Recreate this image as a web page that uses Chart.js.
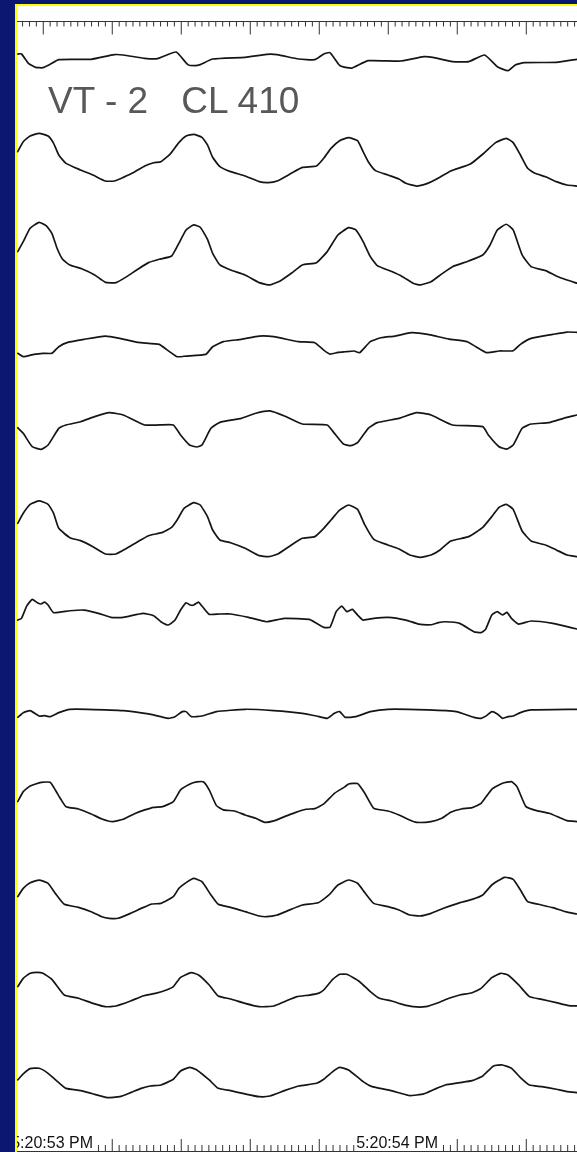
<!DOCTYPE html>
<html>
<head>
<meta charset="utf-8">
<script src="https://cdn.jsdelivr.net/npm/chart.js@4.4.1/dist/chart.umd.min.js"></script>
<style>
  html, body { margin: 0; padding: 0; }
  body { width: 577px; height: 1152px; background: #0b1872; position: relative; overflow: hidden; }
  #panel { position: absolute; left: 16px; top: 6px; width: 561px; height: 1146px; background: #ffffff; }
  #edgeL { position: absolute; left: 15px; top: 4px; width: 2px; height: 1148px; background: #ffff00; z-index: 3; }
  #edgeT { position: absolute; left: 15px; top: 4px; width: 562px; height: 2px; background: #ffff00; z-index: 3; }
  #chartBox { position: absolute; left: 16px; top: 6px; width: 561px; height: 1146px; z-index: 1; }
  #title { position: absolute; left: 48px; top: 81.7px; font: 37px/37px "Liberation Sans", Arial, sans-serif;
           color: #585858; white-space: pre; z-index: 2; }
</style>
</head>
<body>
<div id="panel"></div>
<div id="chartBox"><canvas id="ecg" width="561" height="1146"></canvas></div>
<div id="title">VT - 2 <span style="margin-left:23px">CL 410</span></div>
<div id="edgeL"></div>
<div id="edgeT"></div>
<script>
// Sweep timing (ms from the left edge of the strip)
const spanMs = 1626;
const firstMajorTickMs = 79;
const majorStepMs = 200;
const minorStepMs = 20;
const timeLabels = ['5:20:53 PM', '5:20:54 PM'];
const timeLabelMs = [-14, 986];

// Twelve recorded channels: [time ms, amplitude mV]
const ch1 = [[5,0.43],[16,0.43],[36,-0.57],[57,-1.0],[78,-1.04],[99,-0.68],[124,-0.18],[218,-0.14],[285,0.36],[311,0.32],[373,-0.04],[410,-0.07],[464,0.64],[498,-0.71],[519,-0.82],[534,-0.71],[570,-0.11],[664,0.07],[726,0.39],[757,0.36],[819,-0.11],[866,-0.18],[892,0.43],[910,0.57],[938,-0.79],[959,-1.04],[975,-1.07],[1021,-0.29],[1115,-0.32],[1182,0.14],[1208,0.07],[1265,-0.39],[1312,-0.39],[1358,0.32],[1395,-0.93],[1426,-1.36],[1447,-0.75],[1473,-0.5],[1566,-0.46],[1626,-0.14]];
const ch2 = [[5,0.89],[21,1.96],[41,2.57],[67,2.86],[93,2.57],[109,1.79],[124,0.54],[145,-0.36],[187,-1.07],[223,-1.61],[259,-2.25],[285,-2.25],[311,-1.86],[342,-1.32],[373,-0.64],[399,-0.29],[420,-0.18],[446,0.61],[472,1.86],[493,2.57],[515,2.75],[539,2.43],[555,1.61],[570,0.29],[591,-0.71],[622,-1.25],[664,-1.71],[705,-2.32],[731,-2.43],[757,-2.25],[798,-1.43],[830,-0.79],[871,-0.64],[892,0.18],[913,1.25],[938,2.07],[964,2.39],[990,2.07],[1006,0.89],[1021,-0.18],[1042,-1.14],[1078,-1.61],[1110,-2.04],[1130,-2.5],[1161,-2.79],[1193,-2.5],[1218,-2.07],[1260,-1.18],[1317,-0.43],[1358,0.79],[1390,1.86],[1421,2.32],[1441,1.86],[1462,0.54],[1483,-0.89],[1504,-1.43],[1535,-1.79],[1566,-2.32],[1597,-2.68],[1626,-2.79]];
const ch3 = [[5,0.18],[21,1.25],[41,2.68],[67,3.32],[88,2.93],[104,2.14],[119,0.54],[135,-0.64],[156,-1.25],[192,-1.68],[228,-2.32],[259,-3.11],[290,-3.14],[321,-2.5],[353,-1.71],[384,-1.0],[415,-0.64],[451,-0.29],[472,1.07],[493,2.5],[515,3.04],[534,2.79],[555,1.5],[570,0.0],[591,-1.25],[622,-1.79],[664,-2.32],[705,-3.14],[736,-3.39],[767,-2.93],[798,-2.14],[830,-1.25],[871,-1.0],[902,0.18],[933,1.96],[964,2.75],[985,2.5],[1006,1.25],[1027,-0.36],[1047,-1.32],[1089,-1.96],[1120,-2.5],[1151,-3.21],[1172,-3.39],[1203,-3.04],[1234,-2.21],[1265,-1.43],[1312,-0.82],[1353,-0.18],[1374,0.89],[1395,2.5],[1421,3.11],[1441,2.5],[1467,-0.18],[1493,-1.43],[1535,-1.86],[1566,-2.43],[1597,-2.86],[1626,-3.21]];
const ch4 = [[5,-0.71],[21,-1.07],[52,-0.82],[78,-0.71],[104,-0.71],[124,0.0],[150,0.46],[197,0.79],[259,1.14],[301,0.89],[353,0.46],[415,0.25],[436,-0.29],[467,-1.07],[493,-1.0],[550,-0.82],[570,0.0],[601,0.54],[653,0.79],[705,1.14],[747,1.07],[819,0.54],[866,0.43],[892,-0.36],[910,-0.79],[933,-0.61],[954,-0.54],[980,-0.46],[996,-0.64],[1027,0.54],[1058,0.96],[1099,1.14],[1146,1.5],[1193,1.32],[1255,0.82],[1307,0.54],[1333,0.0],[1364,-0.64],[1400,-0.46],[1441,-0.43],[1462,0.25],[1493,0.89],[1556,1.32],[1597,1.57],[1626,1.54]];
const ch5 = [[5,0.25],[21,-0.36],[47,-1.79],[73,-2.07],[93,-1.61],[124,0.18],[145,0.54],[187,0.89],[228,1.43],[270,1.86],[311,1.61],[373,0.54],[415,0.54],[456,0.54],[477,-0.54],[503,-1.61],[524,-1.82],[539,-1.61],[565,0.18],[591,0.82],[653,1.25],[695,1.79],[736,2.04],[778,1.5],[830,0.64],[902,0.54],[923,-0.36],[949,-1.5],[970,-1.68],[990,-1.36],[1021,0.18],[1047,0.79],[1110,1.25],[1161,1.86],[1203,1.61],[1265,0.54],[1353,0.36],[1369,-0.54],[1400,-1.79],[1423,-2.04],[1441,-1.61],[1467,0.18],[1493,0.64],[1545,0.79],[1587,1.25],[1626,1.61]];
const ch6 = [[5,0.71],[21,1.79],[41,2.75],[67,3.11],[93,2.75],[109,1.79],[124,0.18],[156,-0.82],[187,-1.14],[223,-1.79],[259,-2.57],[290,-2.57],[321,-1.96],[353,-1.25],[384,-0.61],[425,-0.25],[451,0.29],[467,1.07],[487,2.32],[515,2.93],[534,2.68],[555,1.43],[570,0.0],[591,-1.07],[622,-1.36],[664,-1.96],[705,-2.75],[731,-2.86],[757,-2.61],[798,-1.61],[830,-0.89],[866,-0.71],[892,0.18],[913,1.07],[938,2.14],[964,2.68],[990,2.21],[1011,0.54],[1037,-1.0],[1078,-1.61],[1110,-2.04],[1141,-2.68],[1172,-2.93],[1203,-2.68],[1229,-2.14],[1260,-1.18],[1312,-0.71],[1353,0.29],[1379,1.43],[1400,2.43],[1421,2.75],[1441,2.21],[1467,-0.11],[1493,-1.18],[1535,-1.61],[1566,-2.14],[1597,-2.68],[1626,-2.86]];
const ch7 = [[5,-0.36],[16,-0.18],[31,1.14],[47,1.86],[62,1.5],[73,1.36],[83,1.57],[93,1.25],[109,0.43],[156,0.64],[197,0.71],[239,0.36],[275,-0.07],[311,-0.07],[368,0.36],[399,0.11],[420,-0.54],[441,-0.89],[461,-0.36],[477,0.71],[493,1.5],[505,1.25],[515,1.25],[529,1.57],[539,1.14],[560,0.25],[591,0.29],[622,0.29],[674,-0.07],[726,-0.54],[778,-0.18],[850,-0.29],[871,-0.71],[892,-1.14],[910,-1.14],[928,0.54],[944,1.14],[959,0.54],[975,0.79],[990,0.18],[1006,-0.36],[1037,-0.18],[1078,-0.07],[1130,-0.36],[1167,-0.79],[1203,-0.86],[1224,-0.64],[1244,-0.54],[1286,-0.71],[1327,-1.61],[1348,-1.71],[1361,-1.36],[1379,0.18],[1395,0.54],[1410,0.18],[1423,0.46],[1436,-0.18],[1457,-0.79],[1493,-0.46],[1556,-0.71],[1597,-1.07],[1626,-1.32]];
const ch8 = [[5,-0.43],[21,0.07],[41,0.29],[67,-0.29],[83,-0.25],[99,-0.36],[124,0.07],[156,0.43],[207,0.43],[311,0.29],[384,-0.07],[441,-0.54],[461,-0.36],[482,0.18],[493,0.18],[508,-0.36],[539,-0.29],[581,0.18],[664,0.43],[747,0.29],[830,0.0],[871,-0.29],[902,-0.54],[923,0.0],[938,0.18],[954,-0.43],[985,-0.36],[1027,0.18],[1078,0.43],[1193,0.36],[1276,0.18],[1327,-0.43],[1348,-0.54],[1364,-0.25],[1379,0.18],[1395,-0.07],[1410,-0.54],[1426,-0.36],[1441,-0.29],[1462,0.07],[1493,0.36],[1626,0.43]];
const ch9 = [[5,0.18],[21,1.25],[41,1.86],[73,2.25],[99,2.25],[114,1.43],[130,0.43],[145,-0.36],[181,-0.61],[218,-1.14],[249,-1.68],[280,-1.96],[311,-1.71],[342,-1.14],[373,-0.71],[399,-0.43],[425,-0.36],[456,0.18],[477,1.43],[503,2.04],[524,2.29],[544,2.29],[560,1.43],[581,-0.25],[601,-0.71],[633,-0.82],[664,-1.25],[695,-1.61],[721,-2.04],[747,-1.89],[778,-1.43],[809,-1.0],[840,-0.64],[866,-0.57],[892,-0.07],[923,1.07],[954,1.79],[964,2.07],[990,2.11],[1011,1.07],[1037,-0.54],[1078,-0.82],[1110,-1.25],[1141,-1.79],[1161,-2.04],[1203,-1.96],[1234,-1.61],[1260,-0.96],[1291,-0.61],[1322,-0.46],[1348,0.0],[1379,1.5],[1410,2.14],[1436,2.32],[1452,1.79],[1478,-0.36],[1509,-0.79],[1545,-1.07],[1576,-1.54],[1597,-1.86],[1626,-1.96]];
const ch10 = [[5,0.36],[21,1.25],[41,1.86],[67,2.14],[93,1.79],[114,0.71],[140,-0.46],[181,-0.79],[218,-1.25],[249,-1.79],[270,-1.96],[296,-1.96],[332,-1.43],[368,-0.82],[394,-0.43],[420,-0.36],[456,0.36],[472,1.25],[493,1.86],[515,2.32],[539,1.96],[565,0.54],[586,-0.46],[622,-0.79],[664,-1.25],[705,-1.71],[726,-1.79],[757,-1.61],[788,-1.14],[830,-0.54],[876,-0.29],[907,0.54],[933,1.61],[964,2.14],[990,1.79],[1011,0.79],[1037,-0.36],[1078,-0.71],[1110,-1.07],[1141,-1.61],[1172,-1.71],[1203,-1.43],[1239,-0.89],[1281,-0.36],[1322,0.07],[1353,0.54],[1379,1.61],[1416,2.43],[1441,2.21],[1462,1.07],[1483,-0.18],[1514,-0.46],[1556,-0.82],[1592,-1.25],[1626,-1.5]];
const ch11 = [[5,0.36],[21,1.25],[41,1.79],[62,1.89],[78,1.79],[104,1.14],[140,-0.54],[181,-0.89],[223,-1.43],[259,-1.79],[290,-1.71],[332,-1.18],[368,-0.64],[404,-0.36],[436,0.0],[456,0.36],[477,1.36],[508,1.86],[529,1.61],[560,0.54],[586,-0.64],[622,-0.96],[664,-1.43],[705,-1.79],[747,-1.71],[778,-1.25],[814,-0.71],[850,-0.54],[876,-0.36],[892,0.0],[918,1.14],[938,1.68],[959,1.68],[996,0.89],[1027,-0.18],[1053,-0.89],[1089,-1.18],[1120,-1.54],[1151,-1.79],[1187,-1.79],[1224,-1.36],[1255,-0.89],[1286,-0.54],[1322,-0.29],[1348,0.18],[1379,1.32],[1405,1.79],[1426,1.61],[1457,0.54],[1488,-0.71],[1524,-1.0],[1566,-1.36],[1602,-1.68],[1626,-1.71]];
const ch12 = [[5,0.36],[21,1.0],[41,1.57],[67,1.61],[93,1.07],[124,0.07],[145,-0.54],[187,-0.79],[228,-1.18],[264,-1.54],[301,-1.43],[332,-1.0],[363,-0.54],[389,-0.29],[420,-0.18],[456,0.43],[477,1.32],[503,1.71],[524,1.43],[560,0.36],[586,-0.54],[622,-0.79],[664,-1.14],[705,-1.43],[736,-1.36],[778,-0.79],[819,-0.29],[871,0.0],[892,0.43],[918,1.25],[938,1.71],[964,1.43],[1006,0.18],[1032,-0.36],[1078,-0.71],[1115,-1.07],[1141,-1.32],[1182,-1.14],[1213,-0.64],[1244,-0.18],[1286,0.07],[1322,0.29],[1353,0.79],[1384,1.86],[1410,1.96],[1436,1.61],[1462,0.61],[1488,-0.18],[1524,-0.36],[1566,-0.64],[1597,-0.89],[1626,-1.0]];

const channels = [ch1, ch2, ch3, ch4, ch5, ch6, ch7, ch8, ch9, ch10, ch11, ch12];

// Layout: baseline of each row (px from top of the plotting area) and display gain
const rowBaselinePx = [52, 154, 247.3, 340.7, 424, 524, 610.7, 707.3, 797.3, 894, 984, 1077.3];
const plotHeightPx = 1146;
const gainPxPerMv = 28 / 3;

const scales = {
  x: { type: 'linear', min: 0, max: spanMs, display: false }
};
rowBaselinePx.forEach((c, i) => {
  scales['y' + i] = {
    type: 'linear',
    display: false,
    min: -(plotHeightPx - c) / gainPxPerMv,
    max: c / gainPxPerMv
  };
});

const datasets = channels.map((ch, i) => ({
  data: ch.map(([t, v]) => ({ x: t, y: v })),
  yAxisID: 'y' + i,
  borderColor: '#151515',
  borderWidth: 1.7,
  pointRadius: 0,
  tension: 0.15,
  borderJoinStyle: 'round',
  borderCapStyle: 'round',
  fill: false
}));

// Time rulers along the top and bottom edges, with the clock labels
const rulerPlugin = {
  id: 'timeRuler',
  afterDraw(chart) {
    const { ctx, chartArea: a } = chart;
    const x = chart.scales.x;
    ctx.save();
    ctx.strokeStyle = '#333333';
    ctx.lineWidth = 1;
    const topY = a.top + 15.5;
    const botY = a.bottom - 0.5;
    ctx.beginPath();
    ctx.moveTo(a.left, topY); ctx.lineTo(a.right, topY);
    ctx.moveTo(a.left, botY); ctx.lineTo(a.right, botY);
    const first = firstMajorTickMs - Math.floor(firstMajorTickMs / minorStepMs) * minorStepMs;
    for (let t = first; t <= spanMs; t += minorStepMs) {
      const px = x.getPixelForValue(t);
      const major = ((t - firstMajorTickMs) % majorStepMs + majorStepMs) % majorStepMs === 0;
      ctx.moveTo(px, topY); ctx.lineTo(px, topY + (major ? 13 : 5));
      ctx.moveTo(px, botY); ctx.lineTo(px, botY - (major ? 12.5 : 6.5));
    }
    ctx.stroke();

    ctx.font = '16px "Liberation Sans", Arial, sans-serif';
    ctx.textBaseline = 'alphabetic';
    ctx.textAlign = 'left';
    timeLabels.forEach((s, i) => {
      const lx = x.getPixelForValue(timeLabelMs[i]);
      const w = ctx.measureText(s).width;
      ctx.fillStyle = '#ffffff';
      ctx.fillRect(lx - 1, a.bottom - 18, w + 3, 17);
      ctx.fillStyle = '#111111';
      ctx.fillText(s, lx, a.bottom - 4);
    });
    ctx.restore();
  }
};

new Chart(document.getElementById('ecg'), {
  type: 'line',
  data: { datasets },
  options: {
    responsive: false,
    animation: false,
    devicePixelRatio: 1,
    events: [],
    layout: { padding: 0 },
    scales,
    plugins: { legend: { display: false }, tooltip: { enabled: false }, title: { display: false } }
  },
  plugins: [rulerPlugin]
});
</script>
</body>
</html>
